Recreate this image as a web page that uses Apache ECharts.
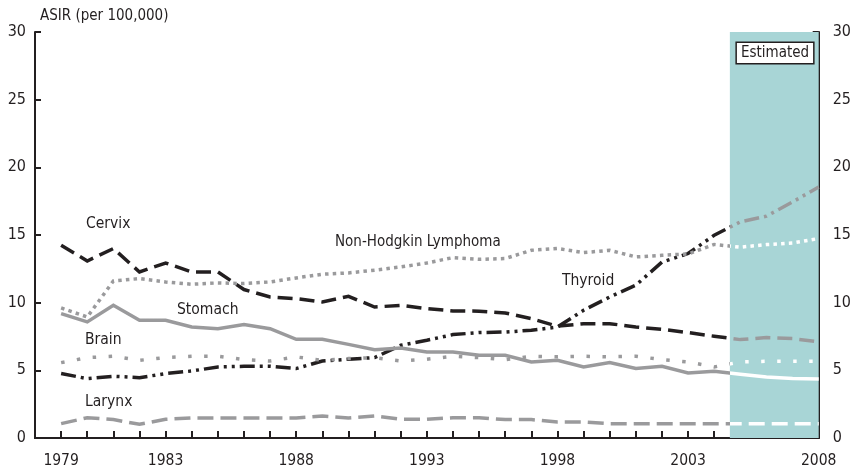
<!DOCTYPE html>
<html><head><meta charset="utf-8">
<script src="https://cdn.jsdelivr.net/npm/echarts@6/dist/echarts.min.js"></script>
<style>html,body{margin:0;padding:0;background:#fff}#c{width:854px;height:471px}</style>
</head><body><div id="c"></div>
<script>
const years = [1979,1980,1981,1982,1983,1984,1985,1986,1987,1988,1989,1990,1991,1992,1993,1994,1995,1996,1997,1998,1999,2000,2001,2002,2003,2004,2005,2006,2007,2008];
const cervix  = [14.24,13.08,14.0,12.27,12.93,12.27,12.27,10.97,10.42,10.3,10.05,10.47,9.68,9.8,9.56,9.39,9.37,9.24,8.82,8.26,8.45,8.45,8.2,8.03,7.79,7.52,7.27,7.42,7.35,7.1];
const thyroid = [4.76,4.39,4.56,4.46,4.76,4.95,5.25,5.3,5.3,5.13,5.69,5.82,5.94,6.85,7.22,7.64,7.79,7.83,7.96,8.2,9.44,10.42,11.29,13.0,13.63,14.98,15.97,16.39,17.44,18.55];
const nhl     = [9.61,8.94,11.6,11.78,11.53,11.36,11.46,11.41,11.53,11.83,12.1,12.2,12.4,12.64,12.93,13.33,13.2,13.26,13.87,14.0,13.7,13.87,13.38,13.5,13.6,14.3,14.1,14.29,14.41,14.74];
const stomach = [9.19,8.58,9.81,8.7,8.7,8.2,8.08,8.38,8.08,7.29,7.29,6.92,6.53,6.65,6.36,6.36,6.11,6.11,5.62,5.74,5.25,5.57,5.13,5.3,4.8,4.93,4.71,4.51,4.39,4.36];
const brain   = [5.57,5.94,6.04,5.74,5.94,6.04,6.04,5.79,5.69,5.99,5.74,5.87,5.94,5.69,5.82,6.04,5.94,5.79,6.04,6.0,6.04,6.0,6.04,5.79,5.62,5.25,5.62,5.67,5.67,5.67];
const larynx  = [1.06,1.5,1.36,1.01,1.38,1.48,1.48,1.48,1.48,1.48,1.63,1.48,1.63,1.38,1.38,1.5,1.5,1.36,1.36,1.18,1.18,1.06,1.06,1.06,1.06,1.06,1.06,1.06,1.06,1.06];
const xTickLabels = [1979,1983,1988,1993,1998,2003,2008];
const estimatedStart = 2004.6;
const estimatedEnd = 2008;

const BLACK = '#231f20', GREY = '#9a9a9c', WHITE = '#ffffff', SHADE = '#a8d5d6';
const FONT = "'DejaVu Sans Condensed','Liberation Sans Narrow',sans-serif";

const defs = [
  {name:'Cervix', data:cervix, c1:BLACK, c2:GREY, dash:[15,7]},
  {name:'Thyroid', data:thyroid, c1:BLACK, c2:GREY, dash:[15,5,3,5,3,5]},
  {name:'Non-Hodgkin Lymphoma', data:nhl, c1:GREY, c2:WHITE, dash:[3.5,4.2]},
  {name:'Stomach', data:stomach, c1:GREY, c2:WHITE, dash:'solid'},
  {name:'Brain', data:brain, c1:GREY, c2:WHITE, dash:[3.5,12.5]},
  {name:'Larynx', data:larynx, c1:GREY, c2:WHITE, dash:[16,7]}
];
const pairs = arr => years.map((y,i)=>[y,arr[i]]);

const series = [{
  type:'line', z:1, silent:true, symbol:'none', data:pairs(larynx),
  lineStyle:{opacity:0},
  markArea:{silent:true, itemStyle:{color:SHADE}, data:[[{xAxis:estimatedStart},{xAxis:estimatedEnd}]]}
}];
defs.forEach(d=>{
  series.push({type:'line', name:d.name, z:3, symbol:'none', data:pairs(d.data),
    lineStyle:{width:3.5, type:d.dash, cap:'butt', join:'miter'}});
});
const visualMap = defs.map((d,i)=>({type:'piecewise', show:false, dimension:0, seriesIndex:i+1,
  pieces:[{min:1970, max:estimatedStart, color:d.c1},{min:estimatedStart, max:2020, color:d.c2}]}));

const axisCommon = {axisLine:{show:true, lineStyle:{color:BLACK, width:2}}, splitLine:{show:false}};
const txt = (t,x,y,size)=>({type:'text', x:x, y:y, z:10, style:{text:t, font:size+'px '+FONT, fill:BLACK, verticalAlign:'middle'}});

const option = {
  animation:false,
  grid:{left:35, right:34, top:32, bottom:33},
  xAxis:[
    Object.assign({type:'value', min:1978, max:2008, interval:1, position:'bottom',
      axisTick:{show:true, inside:true, length:7, lineStyle:{color:BLACK, width:2}},
      axisLabel:{margin:15, color:BLACK, fontFamily:FONT, fontSize:15.5,
        formatter:v=> xTickLabels.indexOf(v)>=0 ? String(v) : ''}}, axisCommon),
    Object.assign({type:'value', min:1978, max:2008, position:'top', axisTick:{show:false}, axisLabel:{show:false}}, axisCommon)
  ],
  yAxis:[
    Object.assign({type:'value', min:0, max:30, interval:5, position:'left',
      axisTick:{show:true, inside:true, length:6, lineStyle:{color:BLACK, width:2}},
      axisLabel:{margin:9, color:BLACK, fontFamily:FONT, fontSize:16}}, axisCommon),
    Object.assign({type:'value', min:0, max:30, interval:5, position:'right',
      axisTick:{show:true, inside:true, length:6, lineStyle:{color:BLACK, width:2}},
      axisLabel:{margin:14, color:BLACK, fontFamily:FONT, fontSize:16}}, axisCommon)
  ],
  visualMap: visualMap,
  series: series,
  graphic:[
    txt('ASIR (per 100,000)', 40, 16, 15),
    txt('Cervix', 86, 224, 15.5),
    txt('Non-Hodgkin Lymphoma', 335, 242, 15),
    txt('Thyroid', 562, 281, 15.5),
    txt('Stomach', 177, 310, 15.5),
    txt('Brain', 85, 340, 15.5),
    txt('Larynx', 85, 402, 15.5),
    {type:'text', x:775, y:53, z:10, style:{text:'Estimated', font:'15px '+FONT, fill:BLACK, align:'center', verticalAlign:'middle',
      backgroundColor:'#fff', borderColor:BLACK, borderWidth:1.5, padding:[3,4,2,4]}}
  ]
};
const chart = echarts.init(document.getElementById('c'), null, {renderer:'canvas'});
chart.setOption(option);
</script></body></html>
